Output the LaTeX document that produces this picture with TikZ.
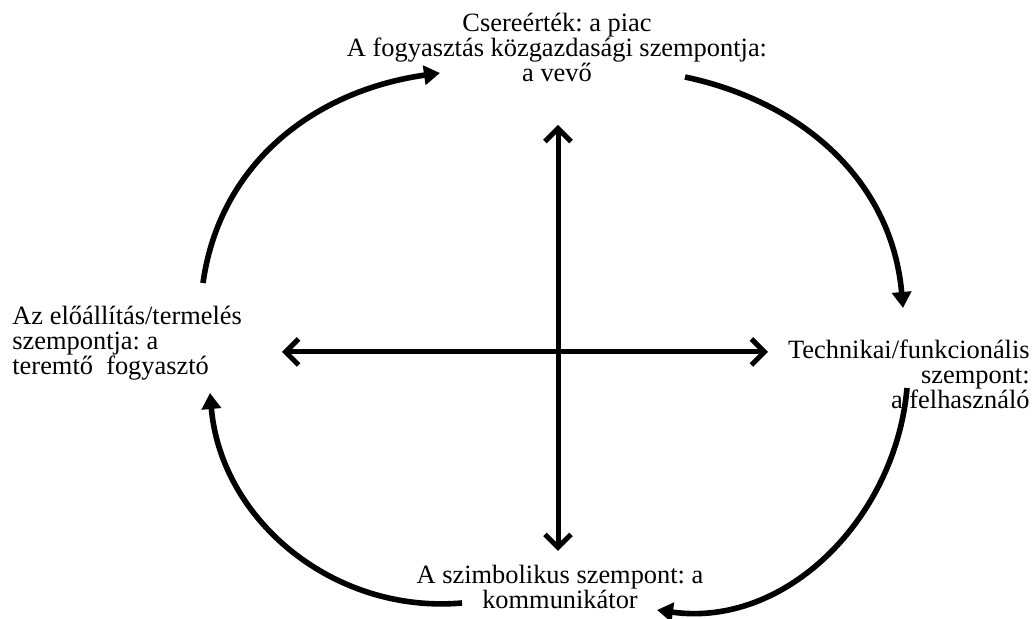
\documentclass[tikz,border=0pt]{standalone}
\usepackage{fontspec}
\setmainfont{Liberation Serif}
\frenchspacing
\usetikzlibrary{arrows.meta}
\tikzset{
  lbl/.style  = {inner sep=0pt, font=\fontsize{13.2}{12.5}\selectfont},
  axis/.style = {{Straight Barb[length=6.5pt,width=13pt]}-{Straight Barb[length=6.5pt,width=13pt]},
                 line width=2.5pt},
  cyc/.style  = {-{Triangle[length=8pt,width=9.5pt]}, line width=2.8pt},
}

\begin{document}
\begin{tikzpicture}[x=0.5pt, y=0.5pt]

% ── Frame: 1033 x 619 px, origin bottom left ───────────────
\useasboundingbox (0,0) rectangle (1033,619);

% ── The four viewpoints ───────────────────────────────────
\node[lbl, align=center] (piac) at (557,572)
  {Csereérték: a piac\\
   A fogyasztás közgazdasági szempontja:\\
   a vevő};

\node[lbl, align=left, anchor=west] (teremto) at (12,276)
  {Az előállítás/termelés\\
   szempontja: a\\
   teremtő~~fogyasztó};

\node[lbl, align=right, anchor=east] (felh) at (1030,245)
  {Technikai/funkcionális\\
   szempont:\\
   a felhasználó};

\node[lbl, align=center] (komm) at (560,32)
  {A szimbolikus szempont: a\\
   kommunikátor};

% ── Cross in the middle ───────────────────────────────────
\coordinate (ax-t) at (558,494);
\coordinate (ax-b) at (558,68);
\coordinate (ax-l) at (282,267);
\coordinate (ax-r) at (768,267);

\draw[axis] (ax-b) -- (ax-t);
\draw[axis] (ax-l) -- (ax-r);

% ── Cycle of arcs, clockwise ──────────────────────────────
\coordinate (tl-s) at (203,336);
\coordinate (tl-e) at (440,546);
\coordinate (tr-s) at (685,542);
\coordinate (tr-e) at (903,311);
\coordinate (br-s) at (907,231);
\coordinate (br-e) at (657,9);
\coordinate (bl-s) at (462,16);
\coordinate (bl-e) at (210,226);

\draw[cyc] (tl-s) to[out=82, in=188] (tl-e);
\draw[cyc] (tr-s) to[out=-12, in=95] (tr-e);
\draw[cyc] (br-s) to[out=-95, in=-8] (br-e);
\draw[cyc] (bl-s) to[out=185, in=-85] (bl-e);

\end{tikzpicture}
\end{document}
